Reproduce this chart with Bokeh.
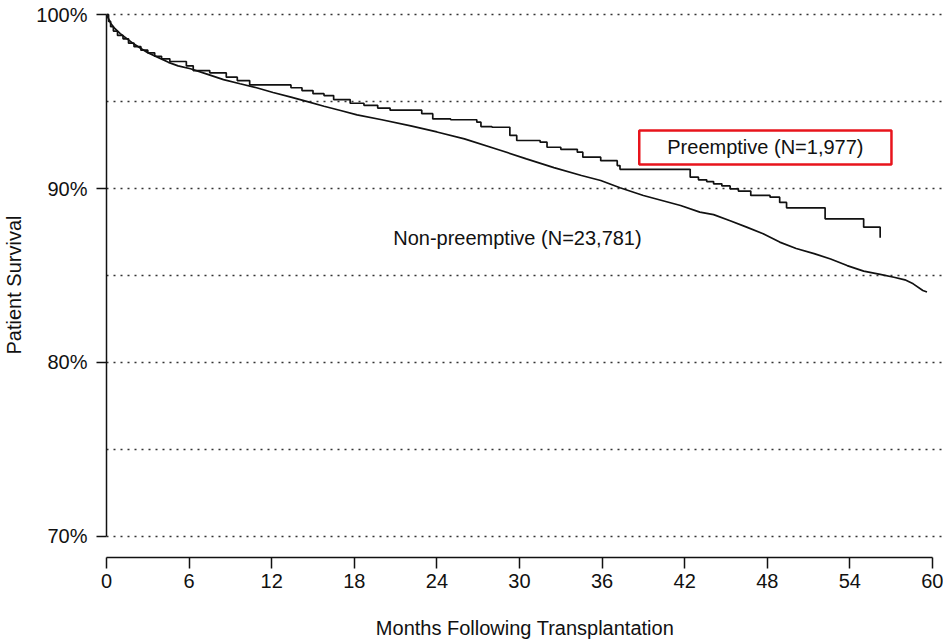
from bokeh.plotting import figure
from bokeh.models import FixedTicker, Label, Range1d, ColumnDataSource
from bokeh.embed import file_html
from bokeh.resources import INLINE

# ---- data ----
nonpre_months = [0, 0.3, 0.6, 1.0, 1.5, 2.0, 2.5, 3.0, 3.7, 4.5, 5.2, 6.1, 7.3, 8.5, 9.7,
                 10.9, 12.1, 13.4, 14.6, 15.8, 17.0, 18.2, 20.0, 22.1, 24.0, 26.0, 28.6,
                 30.5, 32.5, 34.5, 35.9, 37.3, 39.0, 41.7, 43.1, 44.1, 45.3, 46.5, 47.7,
                 48.9, 50.1, 51.4, 52.6, 53.8, 55.0, 56.2, 57.2, 58.0, 58.6, 59.3, 59.6]
nonpre_surv = [100, 99.5, 99.2, 98.9, 98.6, 98.3, 98.05, 97.8, 97.55, 97.25, 97.05, 96.88,
               96.57, 96.26, 96.02, 95.79, 95.52, 95.25, 94.99, 94.73, 94.48, 94.23, 93.95,
               93.6, 93.25, 92.85, 92.2, 91.7, 91.2, 90.75, 90.46, 90.04, 89.6, 89.02, 88.64,
               88.5, 88.15, 87.78, 87.4, 86.92, 86.55, 86.26, 85.95, 85.57, 85.25, 85.06,
               84.9, 84.75, 84.52, 84.14, 84.05]

pre_months = [0, 0.15, 0.3, 0.5, 0.8, 1.2, 1.6, 2.0, 2.5, 3.0, 3.5, 4.0, 4.6, 5.8, 6.3, 7.5,
              8.7, 9.5, 10.4, 13.4, 14.2, 15.0, 15.8, 16.5, 17.7, 18.7, 19.7, 20.6, 22.9,
              23.7, 25.0, 26.9, 27.2, 28.0, 29.3, 29.8, 31.5, 32.0, 33.0, 34.2, 34.6, 35.9,
              37.1, 37.3, 42.4, 43.0, 43.6, 44.1, 44.7, 45.3, 45.9, 46.8, 48.2, 48.9, 49.4,
              52.2, 55.0, 56.2]
pre_surv = [100, 99.6, 99.3, 99.05, 98.8, 98.6, 98.35, 98.15, 97.95, 97.8, 97.6, 97.45, 97.3,
            97.05, 96.78, 96.65, 96.4, 96.2, 95.95, 95.79, 95.63, 95.45, 95.34, 95.11, 94.9,
            94.78, 94.62, 94.5, 94.3, 94.0, 93.95, 93.81, 93.56, 93.52, 93.05, 92.76, 92.66,
            92.37, 92.25, 92.09, 91.8, 91.6, 91.32, 91.1, 90.65, 90.5, 90.4, 90.27, 90.15,
            89.98, 89.85, 89.6, 89.5, 89.2, 88.89, 88.26, 87.78, 87.17]

x_ticks = [0, 6, 12, 18, 24, 30, 36, 42, 48, 54, 60]
y_ticks = [70, 80, 90, 100]
y_tick_labels = ["70%", "80%", "90%", "100%"]
grid_levels = [70, 75, 80, 85, 90, 95, 100]

label_nonpre = "Non-preemptive (N=23,781)"
label_pre = "Preemptive (N=1,977)"

FONT = "Liberation Sans"

p = figure(width=943, height=644, output_backend="svg", toolbar_location=None,
           x_range=Range1d(0, 60.8), y_range=Range1d(68.793, 100.115),
           min_border_left=106, min_border_right=0, min_border_top=12,
           min_border_bottom=87)
p.outline_line_color = None
p.background_fill_color = "white"
p.border_fill_color = "white"

p.xgrid.visible = False
p.ygrid.ticker = FixedTicker(ticks=grid_levels)
p.ygrid.grid_line_color = "#333333"
p.ygrid.grid_line_dash = "2 5"
p.ygrid.grid_line_width = 1.3

# x axis
xa = p.xaxis[0]
xa.ticker = FixedTicker(ticks=x_ticks)
xa.bounds = (0, 60)
xa.axis_line_width = 1.5
xa.axis_line_color = "#111111"
xa.major_tick_line_width = 1.5
xa.major_tick_line_color = "#111111"
xa.major_tick_out = 11
xa.major_tick_in = 0
xa.minor_tick_out = 0
xa.minor_tick_in = 0
xa.major_label_standoff = 5
xa.major_label_text_font = FONT
xa.major_label_text_font_size = "20px"
xa.major_label_text_color = "#111111"
xa.axis_label = "Months Following Transplantation"
xa.axis_label_text_font = FONT
xa.axis_label_text_font_size = "20px"
xa.axis_label_text_font_style = "normal"
xa.axis_label_text_color = "#111111"
xa.axis_label_standoff = 26

# y axis
ya = p.yaxis[0]
ya.ticker = FixedTicker(ticks=y_ticks)
ya.bounds = (70, 100)
ya.major_label_overrides = {t: s for t, s in zip(y_ticks, y_tick_labels)}
ya.axis_line_width = 1.5
ya.axis_line_color = "#111111"
ya.major_tick_line_width = 1.5
ya.major_tick_line_color = "#111111"
ya.major_tick_out = 10
ya.major_tick_in = 0
ya.minor_tick_out = 0
ya.minor_tick_in = 0
ya.major_label_standoff = 9
ya.major_label_text_font = FONT
ya.major_label_text_font_size = "20px"
ya.major_label_text_color = "#111111"
ya.axis_label = "Patient Survival"
ya.axis_label_text_font = FONT
ya.axis_label_text_font_size = "20px"
ya.axis_label_text_font_style = "normal"
ya.axis_label_text_color = "#111111"
ya.axis_label_standoff = 8

src_non = ColumnDataSource(dict(x=nonpre_months, y=nonpre_surv))
src_pre = ColumnDataSource(dict(x=pre_months, y=pre_surv))
p.line("x", "y", source=src_non, line_color="#111111", line_width=1.7)
p.step("x", "y", source=src_pre, mode="after", line_color="#111111", line_width=1.7)

# annotations
p.add_layout(Label(x=29.85, y=87.13, text=label_nonpre, text_align="center",
                   text_baseline="middle", text_font=FONT, text_font_size="20px",
                   text_color="#111111"))
shadow = Label(x=47.86, y=92.36, x_offset=2, y_offset=-2, text=label_pre,
               text_align="center", text_baseline="middle", text_font=FONT,
               text_font_size="20px", text_alpha=0,
               padding=dict(left=28, right=28, top=6, bottom=6),
               border_line_color="#d0d0d0", border_line_width=2.5)
p.add_layout(shadow)
p.add_layout(Label(x=47.86, y=92.36, text=label_pre, text_align="center",
                   text_baseline="middle", text_font=FONT, text_font_size="20px",
                   text_color="#111111",
                   padding=dict(left=28, right=28, top=6, bottom=6),
                   background_fill_color="white",
                   border_line_color="#e8141c", border_line_width=2.5))

open("out.html", "w").write(file_html(p, INLINE))
